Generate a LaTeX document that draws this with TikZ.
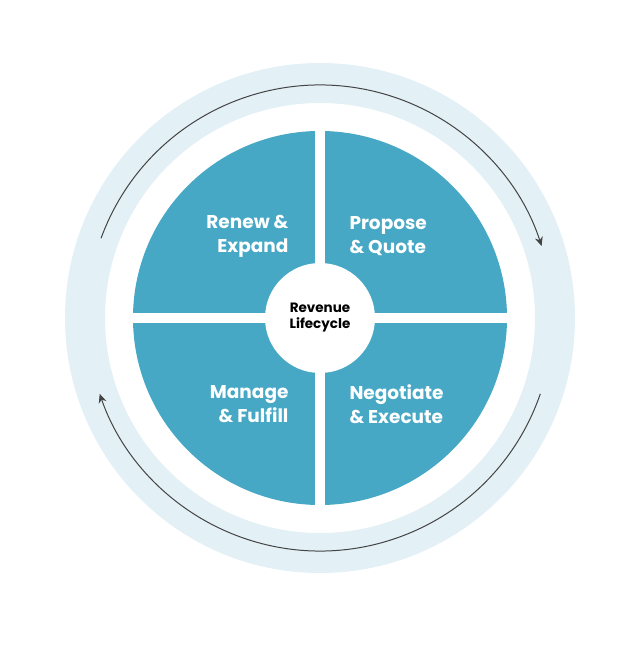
\documentclass[tikz,border=0pt]{standalone}
\usepackage{fontspec}
\setmainfont{Poppins}
\usetikzlibrary{arrows.meta}
\definecolor{ringblue}{HTML}{E3F0F6}
\definecolor{pieblue}{HTML}{46A8C4}
\definecolor{arcgray}{HTML}{444444}
\begin{document}
\begin{tikzpicture}[x=1pt, y=1pt]
    \tikzset{
        phase/.style={text=white, font=\fontsize{18.5}{24}\selectfont\bfseries},
        cycle arc/.style={draw=arcgray, line width=1pt, -{Stealth[length=9pt, width=8pt]}}
    }
    \useasboundingbox (-320,-342) rectangle (320,318);
    % outer ring
    \fill[ringblue, even odd rule] (0,0) circle (255) (0,0) circle (215);
    % quadrants
    \fill[pieblue] (0,0) circle (187);
    \fill[white] (-190,-5) rectangle (190,5);
    \fill[white] (-5,-190) rectangle (5,190);
    \node[circle, fill=white, minimum size=110pt] (core) at (0,0) {};
    \node[font=\fontsize{13.5}{16}\selectfont\bfseries, align=center] at (core) {Revenue\\Lifecycle};
    % phases
    \node[phase, align=right, anchor=east] (renew) at (-28,82) {Renew \&\\Expand};
    \node[phase, align=left, anchor=west] (propose) at (26,82) {Propose\\\& Quote};
    \node[phase, align=right, anchor=east] (manage) at (-28,-86) {Manage\\\& Fulfill};
    \node[phase, align=left, anchor=west] (negotiate) at (26,-86) {Negotiate\\\& Execute};
    % cycle arrows
    \coordinate (topstart) at (160:233);
    \coordinate (botstart) at (-19:233);
    \draw[cycle arc] (topstart) arc[start angle=160, end angle=18, radius=233];
    \draw[cycle arc] (botstart) arc[start angle=-19, end angle=-161, radius=233];
\end{tikzpicture}
\end{document}
